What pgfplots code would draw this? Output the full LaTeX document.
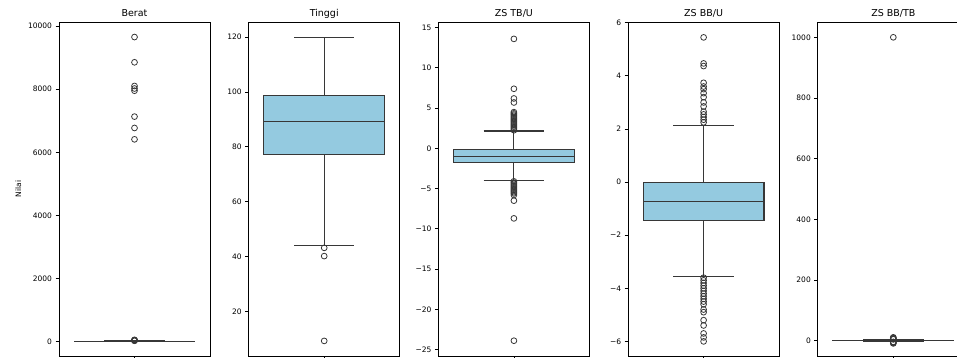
\documentclass[border=0pt]{standalone}
\usepackage{fontspec}
\setmainfont{DejaVu Sans}
\usepackage{pgfplots}
\pgfplotsset{compat=1.18}
\definecolor{boxc}{RGB}{148,202,224}
\definecolor{lc}{RGB}{55,55,55}
\pgfplotsset{
  panel/.style={width=151pt,height=334pt,scale only axis,anchor=south west,
    xmin=-0.5,xmax=0.5,xtick={0},xticklabels={},xtick pos=bottom,ytick pos=left,
    tick align=outside,major tick length=3.5pt,
    every tick/.style={black,line width=0.8pt},
    axis line style={black,line width=0.9pt},
    tick label style={font=\fontsize{7.5}{8}\selectfont},
    scaled y ticks=false,
    /pgf/number format/assume math mode=true,
    /pgf/number format/1000 sep={},
    title style={font=\fontsize{9.5}{10}\selectfont,at={(0.5,1)},anchor=base,yshift=-1pt},
  },
  ln/.style={draw=lc,line width=1.1pt,mark=none},
  out/.style={only marks,mark=o,mark size=2.9pt,
    mark options={draw=lc,fill=none,line width=0.8pt,solid}},
}
% lower whisker, Q1, median, Q3, upper whisker
\newcommand{\bxp}[5]{%
  \addplot[ln] coordinates {(0,#1) (0,#2)};
  \addplot[ln] coordinates {(0,#4) (0,#5)};
  \addplot[ln] coordinates {(-0.2,#1) (0.2,#1)};
  \addplot[ln] coordinates {(-0.2,#5) (0.2,#5)};
  \addplot[ln,fill=boxc] coordinates {(-0.4,#2) (0.4,#2) (0.4,#4) (-0.4,#4)} --cycle;
  \addplot[ln] coordinates {(-0.4,#3) (0.4,#3)};
}
\begin{document}
\begin{tikzpicture}
% Panel 1: Berat
\begin{axis}[panel,at={(59pt,2pt)},title={Berat},ylabel={Nilai},
  ylabel style={font=\fontsize{7.5}{8}\selectfont},
  ymin=-453,ymax=10127,ytick={0,2000,4000,6000,8000,10000}]
\bxp{2}{7}{11}{14}{24}
\addplot[out] coordinates {(0,9650) (0,8850) (0,8100) (0,8020) (0,7950) (0,7130) (0,6770) (0,6410)
  (0,30) (0,36) (0,42) (0,50) (0,58)};
\end{axis}
% Panel 2: Tinggi
\begin{axis}[panel,at={(248.7pt,2pt)},title={Tinggi},
  ymin=3.8,ymax=125.5,ytick={20,40,60,80,100,120}]
\bxp{44.2}{77.2}{89.1}{98.8}{120}
\addplot[out] coordinates {(0,43.2) (0,40.2) (0,9.3)};
\end{axis}
% Panel 3: ZS TB/U
\begin{axis}[panel,at={(438.4pt,2pt)},title={ZS TB/U},
  ymin=-25.8,ymax=15.7,ytick={-25,-20,-15,-10,-5,0,5,10,15},
  yticklabels={−25,−20,−15,−10,−5,0,5,10,15}]
\bxp{-4.0}{-1.73}{-1.03}{-0.1}{2.15}
\addplot[out] coordinates {(0,13.6) (0,7.4) (0,6.2) (0,5.7) (0,4.5) (0,4.35) (0,4.2) (0,4.05) (0,3.9) (0,3.75)
  (0,3.6) (0,3.45) (0,3.3) (0,3.15) (0,3.0) (0,2.85) (0,2.7) (0,2.55) (0,2.4) (0,2.25)
  (0,-4.1) (0,-4.25) (0,-4.4) (0,-4.55) (0,-4.7) (0,-4.85) (0,-5.0) (0,-5.15) (0,-5.3) (0,-5.45) (0,-5.6) (0,-5.8)
  (0,-6.5) (0,-8.7) (0,-23.9)};
\end{axis}
% Panel 4: ZS BB/U
\begin{axis}[panel,at={(628.1pt,2pt)},title={ZS BB/U},
  ymin=-6.55,ymax=6.03,ytick={-6,-4,-2,0,2,4,6},
  yticklabels={−6,−4,−2,0,2,4,6}]
\bxp{-3.57}{-1.43}{-0.74}{-0.03}{2.13}
\addplot[out] coordinates {(0,5.45) (0,4.47) (0,4.37) (0,3.74) (0,3.6) (0,3.5) (0,3.35) (0,3.2) (0,3.0)
  (0,2.85) (0,2.65) (0,2.55) (0,2.45) (0,2.35) (0,2.25)
  (0,-3.6) (0,-3.7) (0,-3.8) (0,-3.9) (0,-4.0) (0,-4.1) (0,-4.2) (0,-4.3) (0,-4.4) (0,-4.5)
  (0,-4.6) (0,-4.8) (0,-4.9) (0,-5.2) (0,-5.4) (0,-5.7) (0,-5.85) (0,-6.0)};
\end{axis}
% Panel 5: ZS BB/TB
\begin{axis}[panel,at={(817.8pt,2pt)},title={ZS BB/TB},
  ymin=-50.5,ymax=1050.5,ytick={0,200,400,600,800,1000}]
\bxp{-3.4}{-0.8}{0.2}{1.0}{3.7}
\addplot[out] coordinates {(0,1000) (0,-9) (0,-7) (0,-5) (0,-4) (0,4.5) (0,5.5) (0,7) (0,9) (0,11)};
\end{axis}
\pgfresetboundingbox
\useasboundingbox (0,0) rectangle (957pt,358pt);
\end{tikzpicture}
\end{document}
